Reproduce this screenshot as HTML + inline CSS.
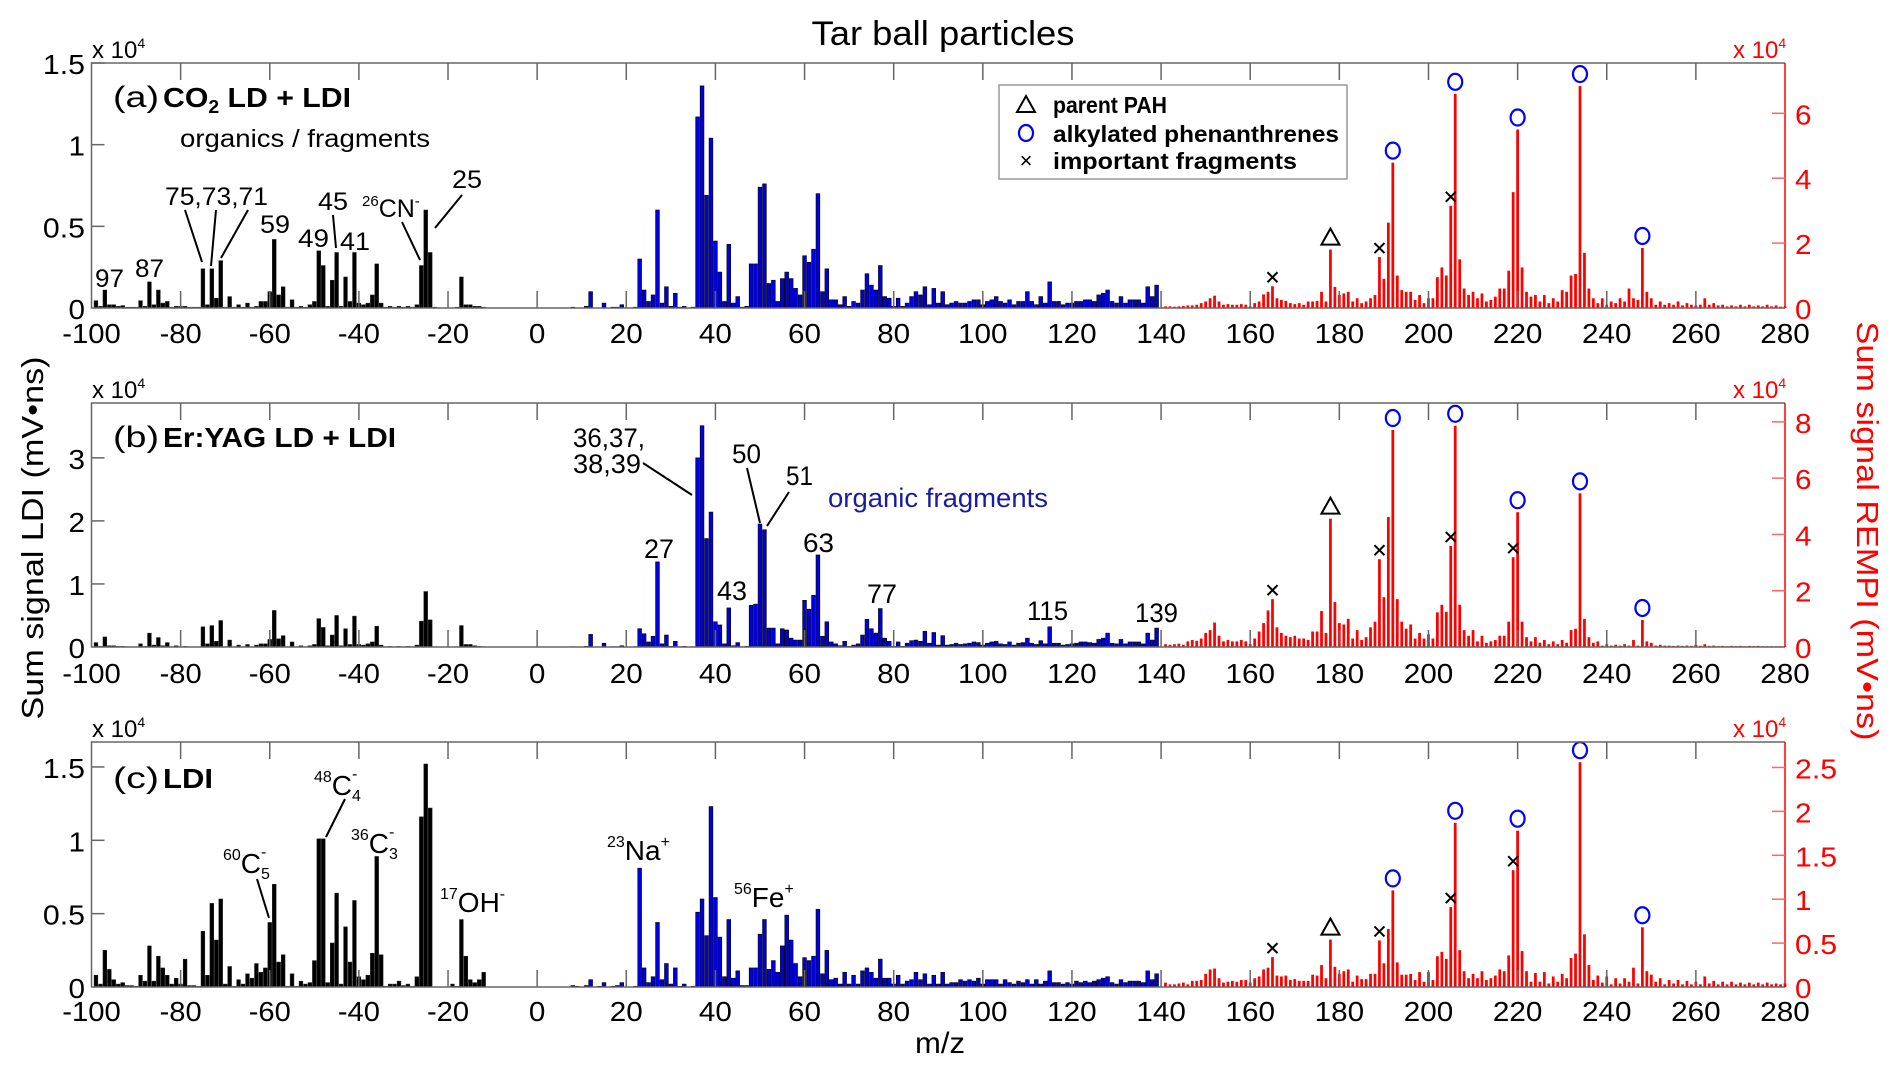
<!DOCTYPE html>
<html><head><meta charset="utf-8"><title>Tar ball particles</title>
<style>
html,body{margin:0;padding:0;background:#fff;}
svg{display:block;font-family:"Liberation Sans",Arial,sans-serif;}
</style></head>
<body>
<svg id="chart" width="1892" height="1070" viewBox="0 0 1892 1070" xmlns="http://www.w3.org/2000/svg">
<rect x="0" y="0" width="1892" height="1070" fill="#fff"/>
<text x="943" y="45" font-size="34" text-anchor="middle" textLength="263" lengthAdjust="spacingAndGlyphs">Tar ball particles</text>
<text transform="translate(43,538) rotate(-90)" font-size="31" text-anchor="middle" textLength="363" lengthAdjust="spacingAndGlyphs">Sum signal LDI (mV•ns)</text>
<text transform="translate(1857,531) rotate(90)" font-size="31" fill="#f00" text-anchor="middle" textLength="419" lengthAdjust="spacingAndGlyphs">Sum signal REMPI (mV•ns)</text>
<text x="940" y="1053" font-size="30" text-anchor="middle" textLength="50" lengthAdjust="spacingAndGlyphs">m/z</text>
<g id="layer"></g>

<!-- Panel a annotations -->
<g font-size="30">
<text x="113" y="107" textLength="46" lengthAdjust="spacingAndGlyphs">(a)</text>
<text x="163" y="107" font-weight="bold" font-size="28" textLength="188" lengthAdjust="spacingAndGlyphs">CO<tspan font-size="18" dy="6">2</tspan><tspan dy="-6"> LD + LDI</tspan></text>
<text x="180" y="147" font-size="25" textLength="250" lengthAdjust="spacingAndGlyphs">organics / fragments</text>
<text x="95" y="287" font-size="25" textLength="29" lengthAdjust="spacingAndGlyphs">97</text>
<text x="135" y="277" font-size="25" textLength="29" lengthAdjust="spacingAndGlyphs">87</text>
<text x="165" y="205" font-size="25" textLength="103" lengthAdjust="spacingAndGlyphs">75,73,71</text>
<text x="260" y="233" font-size="25" textLength="30" lengthAdjust="spacingAndGlyphs">59</text>
<text x="298" y="247" font-size="25" textLength="31" lengthAdjust="spacingAndGlyphs">49</text>
<text x="318" y="210" font-size="25" textLength="30" lengthAdjust="spacingAndGlyphs">45</text>
<text x="340" y="250" font-size="25" textLength="30" lengthAdjust="spacingAndGlyphs">41</text>
<text x="362" y="217" font-size="25"><tspan font-size="15" dy="-11">26</tspan><tspan dy="11">CN</tspan><tspan font-size="15" dy="-11">-</tspan></text>
<text x="452" y="188" font-size="25" textLength="30" lengthAdjust="spacingAndGlyphs">25</text>
<g stroke="#000" stroke-width="2">
<line x1="185" y1="210" x2="202" y2="262"/><line x1="216" y1="210" x2="211" y2="266"/><line x1="248" y1="210" x2="221" y2="258"/>
<line x1="333" y1="215" x2="336" y2="248"/><line x1="402" y1="222" x2="420" y2="260"/><line x1="462" y1="195" x2="435" y2="228"/>
</g>
<g>
<rect x="999" y="85" width="348" height="94" fill="#fff" stroke="#999" stroke-width="1.5"/>
<path d="M1017 112 L1026 96 L1035 112 Z" fill="none" stroke="#000" stroke-width="2"/>
<text x="1053" y="113" font-size="23" font-weight="bold" textLength="114" lengthAdjust="spacingAndGlyphs">parent PAH</text>
<ellipse cx="1026" cy="133" rx="7" ry="8" fill="none" stroke="#00f" stroke-width="2.2"/>
<text x="1053" y="142" font-size="23" font-weight="bold" textLength="286" lengthAdjust="spacingAndGlyphs">alkylated phenanthrenes</text>
<text x="1026" y="168" font-size="22" text-anchor="middle">×</text>
<text x="1053" y="169" font-size="23" font-weight="bold" textLength="244" lengthAdjust="spacingAndGlyphs">important fragments</text>
</g>
</g>

<!-- Panel b annotations -->
<g font-size="27">
<text x="113" y="447" font-size="30" textLength="46" lengthAdjust="spacingAndGlyphs">(b)</text>
<text x="163" y="447" font-size="28" font-weight="bold" textLength="233" lengthAdjust="spacingAndGlyphs">Er:YAG LD + LDI</text>
<text x="573" y="447" textLength="72" lengthAdjust="spacingAndGlyphs">36,37,</text>
<text x="573" y="473" textLength="68" lengthAdjust="spacingAndGlyphs">38,39</text>
<text x="644" y="558" textLength="30" lengthAdjust="spacingAndGlyphs">27</text>
<text x="717" y="600" textLength="30" lengthAdjust="spacingAndGlyphs">43</text>
<text x="732" y="463" textLength="29" lengthAdjust="spacingAndGlyphs">50</text>
<text x="786" y="485" textLength="27" lengthAdjust="spacingAndGlyphs">51</text>
<text x="828" y="507" fill="#1a1aa6" textLength="220" lengthAdjust="spacingAndGlyphs">organic fragments</text>
<text x="803" y="552" textLength="31" lengthAdjust="spacingAndGlyphs">63</text>
<text x="867" y="603" textLength="30" lengthAdjust="spacingAndGlyphs">77</text>
<text x="1027" y="620" textLength="41" lengthAdjust="spacingAndGlyphs">115</text>
<text x="1135" y="622" textLength="43" lengthAdjust="spacingAndGlyphs">139</text>
<g stroke="#000" stroke-width="2">
<line x1="643" y1="463" x2="692" y2="495"/><line x1="747" y1="468" x2="760" y2="523"/><line x1="789" y1="492" x2="767" y2="526"/>
</g>
</g>

<!-- Panel c annotations -->
<g font-size="28">
<text x="113" y="788" font-size="30" textLength="46" lengthAdjust="spacingAndGlyphs">(c)</text>
<text x="163" y="788" font-weight="bold" textLength="50" lengthAdjust="spacingAndGlyphs">LDI</text>
<text x="314" y="795"><tspan font-size="16" dy="-13">48</tspan><tspan dy="13">C</tspan><tspan font-size="16" dy="6">4</tspan><tspan font-size="16" dx="-9" dy="-22">-</tspan></text>
<text x="351" y="853"><tspan font-size="16" dy="-13">36</tspan><tspan dy="13">C</tspan><tspan font-size="16" dy="6">3</tspan><tspan font-size="16" dx="-9" dy="-22">-</tspan></text>
<text x="223" y="873"><tspan font-size="16" dy="-13">60</tspan><tspan dy="13">C</tspan><tspan font-size="16" dy="6">5</tspan><tspan font-size="16" dx="-9" dy="-22">-</tspan></text>
<text x="440" y="912"><tspan font-size="16" dy="-13">17</tspan><tspan dy="13">OH</tspan><tspan font-size="16" dy="-13">-</tspan></text>
<text x="607" y="860"><tspan font-size="16" dy="-13">23</tspan><tspan dy="13">Na</tspan><tspan font-size="16" dy="-13">+</tspan></text>
<text x="734" y="907"><tspan font-size="16" dy="-13">56</tspan><tspan dy="13">Fe</tspan><tspan font-size="16" dy="-13">+</tspan></text>
<g stroke="#000" stroke-width="2">
<line x1="345" y1="799" x2="326" y2="837"/><line x1="257" y1="879" x2="269" y2="918"/>
</g>
</g>
</svg>
<script>
// ---------- categories ----------
const xTickVals = [-100,-80,-60,-40,-20,0,20,40,60,80,100,120,140,160,180,200,220,240,260,280];
const xTickLabels = ["-100","-80","-60","-40","-20","0","20","40","60","80","100","120","140","160","180","200","220","240","260","280"];
const negStart = -99;  // negative-ion m/z categories run -99 .. -12
const posStart = 8;    // LDI positive m/z categories run 8 .. 139
const remStart = 141;  // REMPI m/z categories run 141 .. 280

// ---------- panel a: CO2 LD + LDI ----------
const aNegVal = [0.045,0.01,0.11,0.02,0.02,0.01,0.015,0.005,0.005,0.005,
0.045,0.01,0.16,0.02,0.11,0.03,0.04,0.005,0.01,0.01,
0.01,0.005,0.005,0.005,0.24,0.02,0.24,0.06,0.29,0.005,
0.07,0.005,0.02,0.005,0.03,0.005,0.01,0.04,0.04,0.10,
0.42,0.08,0.13,0.005,0.05,0.005,0.01,0.005,0.02,0.04,
0.35,0.26,0.01,0.17,0.34,0.01,0.19,0.04,0.34,0.03,
0.02,0.03,0.08,0.27,0.03,0.005,0.01,0.005,0.01,0.005,
0.01,0.005,0.02,0.26,0.60,0.34,0.005,0,0,0,
0,0.005,0.19,0.02,0.02,0.01,0.01,0.005];
const aPosVal = [0.005,0,0,0.01,0.10,0,0,0.03,0,0.005,
0.005,0.02,0,0,0.005,0.30,0.11,0.04,0.08,0.60,
0.03,0.13,0.01,0.09,0.005,0.01,0,0.005,1.17,1.36,
0.69,1.04,0.41,0.22,0.04,0.39,0.03,0.07,0.005,0.01,
0.27,0.27,0.74,0.76,0.15,0.17,0.04,0.18,0.22,0.18,
0.12,0.08,0.32,0.28,0.36,0.70,0.10,0.24,0.05,0.05,
0.02,0.07,0.01,0.04,0.03,0.11,0.21,0.14,0.11,0.26,
0.07,0.06,0.01,0.06,0.01,0.03,0.07,0.10,0.08,0.13,
0.02,0.12,0.03,0.10,0.02,0.03,0.04,0.03,0.03,0.04,
0.05,0.05,0.02,0.04,0.05,0.07,0.04,0.03,0.05,0.02,
0.04,0.04,0.10,0.04,0.02,0.07,0.03,0.16,0.04,0.04,
0.02,0.03,0.03,0.04,0.04,0.05,0.05,0.04,0.08,0.09,
0.11,0.04,0.03,0.07,0.03,0.05,0.05,0.05,0.03,0.13,
0.07,0.14];
const aRemVal = [0.05,0.05,0.04,0.05,0.06,0.08,0.08,0.1,0.15,0.2,
0.3,0.38,0.2,0.1,0.12,0.1,0.1,0.12,0.1,0.05,
0.15,0.2,0.42,0.5,0.67,0.3,0.25,0.22,0.15,0.12,
0.15,0.1,0.2,0.2,0.22,0.5,0.2,1.8,0.65,0.4,
0.45,0.5,0.2,0.3,0.15,0.2,0.3,0.4,1.57,0.9,
2.63,4.48,1.0,0.55,0.5,0.5,0.25,0.4,0.15,0.3,
0.3,0.95,1.25,1.0,3.15,6.6,1.5,0.6,0.4,0.5,
0.3,0.45,0.2,0.25,0.35,0.6,0.6,1.15,3.57,5.5,
1.25,0.5,0.35,0.4,0.2,0.4,0.15,0.3,0.2,0.55,
0.5,1.0,1.05,6.84,1.7,0.6,0.3,0.15,0.3,0.1,
0.2,0.15,0.3,0.2,0.6,0.3,0.25,1.85,0.5,0.3,
0.1,0.2,0.1,0.15,0.1,0.2,0.08,0.15,0.1,0.08,
0.1,0.3,0.1,0.15,0.08,0.1,0.05,0.08,0.05,0.1,
0.05,0.1,0.05,0.08,0.05,0.1,0.05,0.08,0.04,0.05];
const aMarkMz = [165,178,189,192,205,206,220,234,248];
const aMarkType = ["x","tri","x","circ","x","circ","circ","circ","circ"];
const aLeftTicks = [0,0.5,1,1.5];
const aLeftLabels = ["0","0.5","1","1.5"];
const aRightTicks = [0,2,4,6];
const aRightLabels = ["0","2","4","6"];

// ---------- panel b: Er:YAG LD + LDI ----------
const bNegVal = [0.07,0.01,0.16,0.02,0.02,0.01,0.01,0.005,0.005,0.005,
0.05,0.01,0.22,0.03,0.15,0.02,0.07,0.005,0.02,0.005,
0.01,0.005,0.005,0.005,0.32,0.05,0.34,0.09,0.42,0.005,
0.11,0.005,0.03,0.005,0.04,0.005,0.03,0.05,0.05,0.12,
0.58,0.13,0.18,0.005,0.08,0.005,0.02,0.005,0.02,0.04,
0.45,0.31,0.02,0.19,0.50,0.02,0.29,0.04,0.49,0.04,
0.03,0.05,0.08,0.33,0.03,0.005,0.01,0.005,0.01,0.005,
0.01,0.005,0.03,0.41,0.88,0.43,0.005,0,0,0,
0,0.005,0.34,0.04,0.04,0.02,0.01,0.005];
const bPosVal = [0.005,0,0,0.01,0.20,0,0,0.06,0,0.005,
0.005,0.02,0,0,0.005,0.29,0.21,0.08,0.17,1.35,
0.05,0.19,0.01,0.09,0.005,0.01,0,0.005,3.0,3.51,
1.72,2.14,0.40,0.35,0.05,0.62,0.02,0.07,0.005,0.01,
0.66,0.68,1.95,1.86,0.30,0.30,0.05,0.29,0.27,0.14,
0.11,0.11,0.74,0.60,0.82,1.46,0.17,0.40,0.08,0.05,
0.02,0.09,0.01,0.03,0.05,0.19,0.44,0.29,0.22,0.61,
0.14,0.09,0.01,0.08,0.01,0.06,0.10,0.11,0.09,0.25,
0.06,0.23,0.03,0.18,0.03,0.04,0.06,0.04,0.05,0.06,
0.08,0.07,0.03,0.06,0.08,0.09,0.05,0.04,0.08,0.03,
0.06,0.07,0.14,0.06,0.04,0.10,0.05,0.32,0.06,0.06,
0.03,0.04,0.05,0.06,0.08,0.08,0.07,0.06,0.12,0.14,
0.22,0.06,0.05,0.12,0.05,0.08,0.08,0.08,0.05,0.22,
0.11,0.30];
const bRemVal = [0.1,0.08,0.1,0.12,0.08,0.2,0.25,0.22,0.3,0.5,
0.6,0.87,0.4,0.2,0.25,0.2,0.2,0.25,0.2,0.1,
0.3,0.55,0.85,1.3,1.7,0.7,0.5,0.4,0.35,0.4,
0.3,0.3,0.25,0.55,0.55,1.28,0.5,4.56,1.6,0.85,
0.8,1.0,0.3,0.6,0.25,0.35,0.7,0.9,3.12,1.77,
4.62,7.71,1.7,0.9,0.65,0.8,0.3,0.5,0.3,0.45,
0.3,1.23,1.5,1.25,3.59,7.86,1.5,0.6,0.4,0.6,
0.2,0.4,0.15,0.2,0.25,0.4,0.4,0.9,3.19,4.79,
0.9,0.35,0.2,0.35,0.15,0.25,0.1,0.2,0.1,0.25,
0.15,0.6,0.65,5.46,1.0,0.35,0.15,0.2,0.05,0.1,
0.05,0.08,0.05,0.1,0.05,0.25,0.05,0.96,0.2,0.15,
0.05,0.08,0.05,0.05,0.04,0.05,0.04,0.05,0.04,0.08,
0.04,0.1,0.04,0.05,0.03,0.04,0.03,0.04,0.03,0.04,
0.03,0.04,0.03,0.04,0.03,0.03,0.03,0.03,0.03,0.03];
const bMarkMz = [165,178,189,192,205,206,219,220,234,248];
const bMarkType = ["x","tri","x","circ","x","circ","x","circ","circ","circ"];
const bLeftTicks = [0,1,2,3];
const bLeftLabels = ["0","1","2","3"];
const bRightTicks = [0,2,4,6,8];
const bRightLabels = ["0","2","4","6","8"];

// ---------- panel c: LDI ----------
const cNegVal = [0.08,0.02,0.25,0.12,0.05,0.02,0.03,0.01,0.01,0.005,
0.08,0.04,0.28,0.04,0.21,0.13,0.08,0.02,0.06,0.02,
0.19,0.01,0.01,0.005,0.38,0.08,0.57,0.32,0.60,0.02,
0.14,0.005,0.05,0.02,0.09,0.06,0.16,0.10,0.13,0.44,
0.70,0.17,0.22,0.005,0.09,0.005,0.04,0.02,0.03,0.18,
1.01,1.01,0.03,0.30,0.64,0.02,0.41,0.17,0.59,0.07,
0.05,0.08,0.23,0.89,0.22,0.005,0.02,0.02,0.04,0.01,
0.02,0.005,0.07,1.16,1.52,1.22,0,0,0,0,
0.02,0.005,0.46,0.21,0.05,0.03,0.05,0.10];
const cPosVal = [0.01,0.005,0,0.01,0.05,0,0.005,0.03,0,0.005,
0.01,0.03,0,0,0.005,0.81,0.13,0.03,0.07,0.44,
0.05,0.16,0.02,0.13,0.005,0.02,0,0.005,0.51,0.60,
0.35,1.23,0.61,0.34,0.07,0.46,0.06,0.11,0.01,0.01,
0.13,0.13,0.36,0.46,0.12,0.18,0.10,0.28,0.49,0.32,
0.16,0.07,0.20,0.18,0.21,0.53,0.09,0.25,0.05,0.06,
0.02,0.10,0.02,0.08,0.02,0.11,0.13,0.10,0.06,0.19,
0.06,0.06,0.02,0.08,0.02,0.04,0.05,0.10,0.05,0.09,
0.02,0.08,0.02,0.10,0.02,0.03,0.03,0.05,0.04,0.05,
0.04,0.06,0.02,0.05,0.05,0.05,0.02,0.05,0.03,0.02,
0.04,0.03,0.05,0.02,0.05,0.02,0.04,0.11,0.03,0.03,
0.02,0.03,0.02,0.04,0.03,0.04,0.03,0.04,0.05,0.06,
0.07,0.03,0.02,0.05,0.03,0.04,0.04,0.04,0.03,0.11,
0.05,0.09];
const cRemVal = [0.05,0.03,0.03,0.04,0.05,0.03,0.07,0.07,0.08,0.15,
0.2,0.21,0.1,0.05,0.06,0.07,0.06,0.08,0.08,0.05,
0.1,0.12,0.2,0.22,0.34,0.13,0.12,0.13,0.08,0.09,
0.07,0.07,0.07,0.14,0.13,0.25,0.1,0.54,0.23,0.15,
0.18,0.2,0.06,0.13,0.09,0.09,0.15,0.15,0.53,0.27,
0.66,1.10,0.28,0.14,0.14,0.15,0.08,0.17,0.06,0.17,
0.08,0.35,0.4,0.32,0.91,1.87,0.42,0.18,0.1,0.15,
0.1,0.18,0.08,0.1,0.13,0.2,0.18,0.36,1.33,1.78,
0.41,0.18,0.06,0.16,0.06,0.17,0.04,0.12,0.06,0.15,
0.1,0.33,0.38,2.56,0.6,0.25,0.08,0.13,0.05,0.12,
0.03,0.1,0.04,0.1,0.06,0.22,0.04,0.68,0.18,0.14,
0.06,0.1,0.03,0.08,0.04,0.08,0.03,0.07,0.03,0.06,
0.03,0.12,0.04,0.07,0.03,0.06,0.03,0.06,0.03,0.05,
0.03,0.05,0.03,0.05,0.03,0.05,0.03,0.04,0.03,0.04];
const cMarkMz = [165,178,189,192,205,206,219,220,234,248];
const cMarkType = ["x","tri","x","circ","x","circ","x","circ","circ","circ"];
const cLeftTicks = [0,0.5,1,1.5];
const cLeftLabels = ["0","0.5","1","1.5"];
const cRightTicks = [0,0.5,1,1.5,2,2.5];
const cRightLabels = ["0","0.5","1","1.5","2","2.5"];

// ---------- drawing ----------
const NS = "http://www.w3.org/2000/svg";
const layer = document.getElementById("layer");
const X0 = 91.5, X1 = 1785, XMIN = -100, XMAX = 280;
function xs(m){ return X0 + (m - XMIN) / (XMAX - XMIN) * (X1 - X0); }
const unitPx = (X1 - X0) / (XMAX - XMIN);

function mk(tag, attrs, parent){
  const e = document.createElementNS(NS, tag);
  for (const k in attrs) e.setAttribute(k, attrs[k]);
  (parent || layer).appendChild(e);
  return e;
}
function numLen(s, per){ let w = 0; for (const ch of s){ w += (ch >= "0" && ch <= "9") ? per : per * 0.55; } return w; }

const panels = [
 {id:"a", top:63, base:308, maxL:1.5, maxR:7.55, neg:aNegVal, pos:aPosVal, rem:aRemVal, mMz:aMarkMz, mType:aMarkType, lt:aLeftTicks, ll:aLeftLabels, rt:aRightTicks, rl:aRightLabels, xlab:343},
 {id:"b", top:403, base:647, maxL:3.87, maxR:8.67, neg:bNegVal, pos:bPosVal, rem:bRemVal, mMz:bMarkMz, mType:bMarkType, lt:bLeftTicks, ll:bLeftLabels, rt:bRightTicks, rl:bRightLabels, xlab:683},
 {id:"c", top:742, base:987, maxL:1.67, maxR:2.79, neg:cNegVal, pos:cPosVal, rem:cRemVal, mMz:cMarkMz, mType:cMarkType, lt:cLeftTicks, ll:cLeftLabels, rt:cRightTicks, rl:cRightLabels, xlab:1021}
];

panels.forEach(p => {
  const g = mk("g", {});
  
  
  const yL = v => p.base - v / p.maxL * (p.base - p.top);
  const yR = v => p.base - v / p.maxR * (p.base - p.top);

  // bars
  const bw = unitPx * 0.85;
  p.neg.forEach((v, i) => {
    if (v <= 0) return;
    const m = negStart + i;
    const r = mk("rect", {x: xs(m) - bw/2, y: yL(v), width: bw, height: p.base - yL(v), fill: "#000", stroke: "#222", "stroke-width": 0.5}, g);
    
    
  });
  p.pos.forEach((v, i) => {
    if (v <= 0) return;
    const m = posStart + i;
    const r = mk("rect", {x: xs(m) - bw/2, y: yL(v), width: bw, height: p.base - yL(v), fill: "#0000dd", stroke: "#000", "stroke-width": 0.6}, g);
    
    
  });
  const rw = unitPx * 0.62;
  p.rem.forEach((v, i) => {
    const m = remStart + i;
    const r = mk("rect", {x: xs(m) - rw/2, y: yR(v), width: rw, height: p.base - yR(v), fill: "#ff0000"}, g);
    
    
  });

  // markers
  p.mMz.forEach((m, i) => {
    const v = p.rem[m - remStart];
    const top = yR(v);
    const t = p.mType[i];
    let e;
    if (t === "circ") {
      e = mk("ellipse", {cx: xs(m), cy: top - 12, rx: 7, ry: 8, fill: "none", stroke: "#00f", "stroke-width": 2.2}, g);
      
    } else if (t === "tri") {
      const cx = xs(m), cy = top - 13;
      e = mk("path", {d: `M${cx-9} ${cy+8} L${cx} ${cy-8} L${cx+9} ${cy+8} Z`, fill: "none", stroke: "#000", "stroke-width": 2}, g);
      
    } else {
      const cx = xs(m), cy = top - 9;
      e = mk("path", {d: `M${cx-5} ${cy-5} L${cx+5} ${cy+5} M${cx+5} ${cy-5} L${cx-5} ${cy+5}`, stroke: "#000", "stroke-width": 2}, g);
      
    }
    
  });

  // axes frame
  const ax = mk("path", {d: `M${X1} ${p.top} L${X0} ${p.top} L${X0} ${p.base} L${X1} ${p.base}`, fill: "none", stroke: "#666", "stroke-width": 1.5}, g);
  
  
  const rax = mk("line", {x1: X1, y1: p.top, x2: X1, y2: p.base, stroke: "#f00", "stroke-width": 1.5}, g);
  
  

  // x ticks
  xTickVals.forEach((m, i) => {
    const x = xs(m);
    if (i > 0 && i < xTickVals.length - 1) {
      mk("line", {x1: x, y1: p.top, x2: x, y2: p.top + 17, stroke: "#666", "stroke-width": 1.5}, g);
      mk("line", {x1: x, y1: p.base, x2: x, y2: p.base - 17, stroke: "#666", "stroke-width": 1.5}, g);
    }
    const s = xTickLabels[i];
    const t = mk("text", {x: x, y: p.xlab, "font-size": 28, "text-anchor": "middle", textLength: numLen(s, 16.5), lengthAdjust: "spacingAndGlyphs"}, g);
    t.textContent = s;
    
    
  });

  // left ticks
  p.lt.forEach((v, i) => {
    const y = yL(v);
    if (v > 0) mk("line", {x1: X0, y1: y, x2: X0 + 13, y2: y, stroke: "#666", "stroke-width": 1.5}, g);
    const s = p.ll[i];
    const t = mk("text", {x: 85, y: y + 11, "font-size": 28, "text-anchor": "end", textLength: numLen(s, 16.5), lengthAdjust: "spacingAndGlyphs"}, g);
    t.textContent = s;
    
    
  });
  // right ticks
  p.rt.forEach((v, i) => {
    const y = yR(v);
    if (v > 0) mk("line", {x1: X1, y1: y, x2: X1 - 13, y2: y, stroke: "#f66", "stroke-width": 1.5}, g);
    const s = p.rl[i];
    const t = mk("text", {x: 1795, y: y + 11, "font-size": 28, fill: "#f00", textLength: numLen(s, 16.5), lengthAdjust: "spacingAndGlyphs"}, g);
    t.textContent = s;
    
    
  });

  // exponent labels
  const ex1 = mk("text", {x: 92, y: p.top - 5, "font-size": 24}, g);
  ex1.innerHTML = 'x 10<tspan font-size="14" dy="-10">4</tspan>';
  
  
  const ex2 = mk("text", {x: 1733, y: p.top - 5, "font-size": 24, fill: "#f00"}, g);
  ex2.innerHTML = 'x 10<tspan font-size="14" dy="-10">4</tspan>';
  
  
});
</script>
</body></html>
